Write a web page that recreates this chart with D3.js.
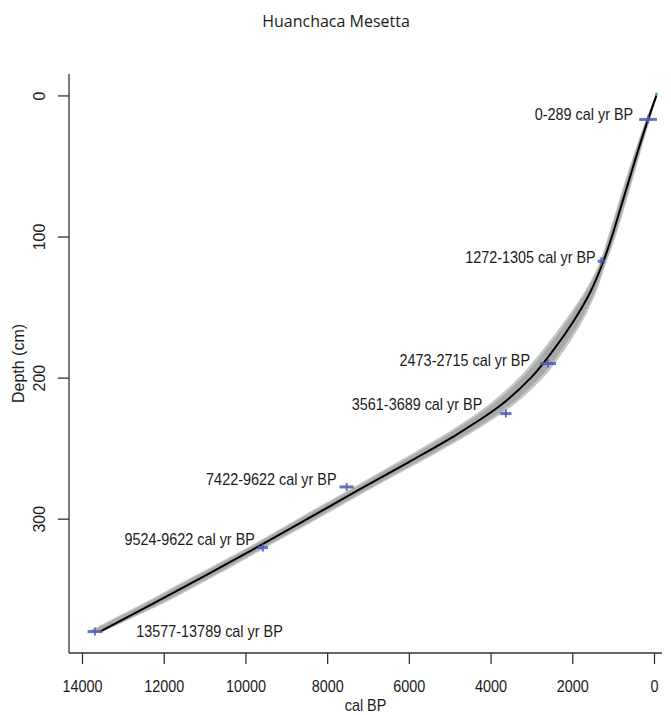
<!DOCTYPE html>
<html>
<head>
<meta charset="utf-8">
<script src="https://cdn.jsdelivr.net/npm/d3@7"></script>
<style>
  html, body { margin: 0; padding: 0; background: #fff; }
  svg { display: block; }
  text { font-family: "Liberation Sans", Arial, sans-serif; fill: #1a1a1a; }
</style>
</head>
<body>
<svg id="chart" width="671" height="715"></svg>
<script>
// Age-depth model for the Huanchaca Mesetta core
const title = "Huanchaca Mesetta";
const xLabel = "cal BP";
const yLabel = "Depth (cm)";

// model depths (cm) and median modelled age (cal BP)
const modelDepth = [0, 20, 40, 60, 80, 100, 120, 140, 160, 180, 200, 220, 240, 260, 280, 300, 320, 340, 360, 380];
const modelAge   = [-60, 180, 400, 610, 820, 1030, 1270, 1570, 1970, 2450, 3010, 3770, 4810, 6010, 7250, 8470, 9700, 10960, 12250, 13560];
// uncertainty envelope (years younger / older than the median)
const envYounger = [20, 55, 75, 90, 95, 95, 85, 150, 220, 270, 300, 310, 300, 280, 250, 250, 230, 260, 250, 80];
const envOlder   = [20, 55, 75, 90, 95, 95, 85, 150, 220, 270, 300, 310, 300, 280, 250, 250, 230, 260, 250, 300];

// radiocarbon dates: depth (cm) and calibrated range (cal BP)
const dateDepth  = [17, 117.5, 190, 225.5, 277.5, 320.5, 380];
const dateMinAge = [0, 1272, 2473, 3561, 7422, 9524, 13577];
const dateMaxAge = [289, 1305, 2715, 3689, 7622, 9622, 13789];
const dateLabels = ["0-289 cal yr BP", "1272-1305 cal yr BP", "2473-2715 cal yr BP", "3561-3689 cal yr BP",
                    "7422-9622 cal yr BP", "9524-9622 cal yr BP", "13577-13789 cal yr BP"];

// axis ticks
const xTicks = [14000, 12000, 10000, 8000, 6000, 4000, 2000, 0];
const yTicks = [0, 100, 200, 300];

// label placement relative to each date marker (pixels)
const labelSide = ["left", "left", "left", "left", "left", "left", "right"];
const labelGap  = [9, 5, 13, 21, 6, 6, 37];
const labelDy   = [1, 2, 2.5, -3.6, -2, -2.6, 5.5];

const svg = d3.select("#chart");
const plot = { left: 69, right: 662, top: 74, bottom: 653 };
const hScale = 0.9; // horizontal squeeze of the upright text

const x = d3.scaleLinear().domain([14318, -196]).range([plot.left, plot.right]);
const y = d3.scaleLinear().domain([-15.2, 395.2]).range([plot.top, plot.bottom]);

// soft edge for the envelope
const defs = svg.append("defs");
defs.append("filter").attr("id", "soft").attr("x", "-5%").attr("y", "-5%").attr("width", "110%").attr("height", "110%")
  .append("feGaussianBlur").attr("stdDeviation", 0.7);

// title
svg.append("text").attr("x", 336).attr("y", 27).attr("text-anchor", "middle")
  .style("font-family", "'Open Sans', sans-serif").style("font-size", "16px").style("fill", "#1a1a1a")
  .text(title);

// uncertainty envelope: lighter outer rim, darker core
const model = modelDepth.map((d, i) => ({ depth: d, age: modelAge[i], lo: envYounger[i], hi: envOlder[i] }));
const band = k => d3.area()
  .y(d => y(d.depth))
  .x0(d => x(d.age - d.lo * k))
  .x1(d => x(d.age + d.hi * k))
  .curve(d3.curveMonotoneY);
svg.append("path").datum(model).attr("d", band(1))
  .attr("fill", "#c6c6c6").attr("filter", "url(#soft)");
svg.append("path").datum(model).attr("d", band(0.72))
  .attr("fill", "#a9a9a9").attr("filter", "url(#soft)");

// median model line
const line = d3.line().y(d => y(d.depth)).x(d => x(d.age)).curve(d3.curveMonotoneY);
svg.append("path").datum(model).attr("d", line)
  .attr("fill", "none").attr("stroke", "#000").attr("stroke-width", 2);

// surface point
svg.append("circle").attr("cx", x(model[0].age)).attr("cy", y(model[0].depth) - 1.5).attr("r", 1.4)
  .attr("fill", "#2fae9c");

// date markers
const dates = dateDepth.map((d, i) => ({ depth: d, min: dateMinAge[i], max: dateMaxAge[i], label: dateLabels[i], i }));
const mk = svg.append("g").attr("class", "dates");
mk.selectAll("line.range").data(dates).join("line").attr("class", "range")
  .attr("x1", d => x(d.max) - 3).attr("x2", d => x(d.min) + 3)
  .attr("y1", d => y(d.depth)).attr("y2", d => y(d.depth))
  .attr("stroke", "#4e5ab8").attr("stroke-width", 3).attr("stroke-opacity", 0.85);
mk.selectAll("line.mid").data(dates).join("line").attr("class", "mid")
  .attr("x1", d => x((d.min + d.max) / 2)).attr("x2", d => x((d.min + d.max) / 2))
  .attr("y1", d => y(d.depth) - 4).attr("y2", d => y(d.depth) + 4)
  .attr("stroke", "#4e5ab8").attr("stroke-width", 2).attr("stroke-opacity", 0.85);

// date labels
const lab = svg.append("g").attr("class", "labels");
lab.selectAll("g").data(dates).join("g")
  .attr("transform", d => {
    const px = labelSide[d.i] === "left" ? x(d.max) - labelGap[d.i] : x(d.min) + labelGap[d.i];
    return `translate(${px},${y(d.depth) + labelDy[d.i]})`;
  })
  .append("text")
  .attr("transform", `scale(${hScale},1)`)
  .attr("text-anchor", d => labelSide[d.i] === "left" ? "end" : "start")
  .style("font-size", "16px")
  .text(d => d.label);

// frame: left and bottom lines
svg.append("line").attr("x1", plot.left).attr("x2", plot.left).attr("y1", plot.top).attr("y2", plot.bottom)
  .attr("stroke", "#333").attr("stroke-width", 1.3);
svg.append("line").attr("x1", plot.left).attr("x2", plot.right).attr("y1", plot.bottom).attr("y2", plot.bottom)
  .attr("stroke", "#333").attr("stroke-width", 1.3);

// x axis
const gx = svg.append("g").attr("transform", `translate(0,${plot.bottom})`)
  .call(d3.axisBottom(x).tickValues(xTicks).tickFormat(d3.format("d")).tickSize(11));
gx.select(".domain").remove();
gx.selectAll(".tick line").attr("stroke", "#333").attr("stroke-width", 1.3);
gx.selectAll(".tick text").attr("y", 27.5).attr("dy", "0.71em")
  .attr("transform", `scale(${hScale},1)`)
  .style("font-size", "16px").style("font-family", "'Liberation Sans', Arial, sans-serif").style("fill", "#1a1a1a");

svg.append("g").attr("transform", `translate(${(plot.left + plot.right) / 2},711)`)
  .append("text").attr("transform", `scale(${hScale},1)`).attr("text-anchor", "middle")
  .style("font-size", "16px").text(xLabel);

// y axis
const gy = svg.append("g").attr("transform", `translate(${plot.left},0)`)
  .call(d3.axisLeft(y).tickValues(yTicks).tickSize(11));
gy.select(".domain").remove();
gy.selectAll(".tick line").attr("stroke", "#333").attr("stroke-width", 1.3);
gy.selectAll(".tick text")
  .attr("x", null).attr("y", null).attr("dy", "0.35em")
  .attr("text-anchor", "middle")
  .attr("transform", "translate(-30,0) rotate(-90)")
  .style("font-size", "16px").style("font-family", "'Liberation Sans', Arial, sans-serif").style("fill", "#1a1a1a");

svg.append("text").attr("transform", `translate(18,${(plot.top + plot.bottom) / 2}) rotate(-90)`)
  .attr("text-anchor", "middle").attr("dy", "0.35em")
  .style("font-size", "16px").text(yLabel);
</script>
</body>
</html>
